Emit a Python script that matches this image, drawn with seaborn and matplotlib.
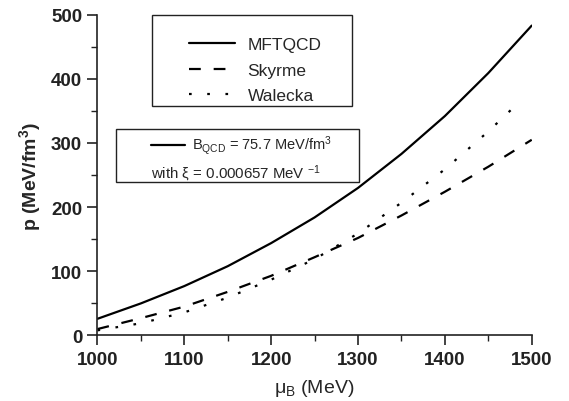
import seaborn as sns
import matplotlib.pyplot as plt
import matplotlib.patches as mpatches
import pandas as pd

# ---------------------------
# Data (p vs mu_B)
# ---------------------------
mu_mft = [1000, 1050, 1100, 1150, 1200, 1250, 1300, 1350, 1400, 1450, 1500]
p_mft = [26, 50, 77, 108, 144, 184, 230, 283, 342, 409, 483]

mu_sky = [1000, 1050, 1100, 1150, 1200, 1250, 1300, 1350, 1400, 1450, 1500]
p_sky = [10, 27, 45, 68, 93, 122, 152, 187, 224, 263, 305]

mu_wal = [1000, 1050, 1100, 1150, 1200, 1250, 1300, 1350, 1400, 1450, 1485]
p_wal = [8, 19, 36, 59, 87, 119, 159, 207, 259, 318, 363]

models = ["MFTQCD", "Skyrme", "Walecka"]

df = pd.concat([
    pd.DataFrame({"mu": mu_mft, "p": p_mft, "model": models[0]}),
    pd.DataFrame({"mu": mu_sky, "p": p_sky, "model": models[1]}),
    pd.DataFrame({"mu": mu_wal, "p": p_wal, "model": models[2]}),
])

# ---------------------------
# Style
# ---------------------------
sns.set_style("ticks")
plt.rcParams["font.family"] = ["Liberation Sans", "DejaVu Sans"]
plt.rcParams["mathtext.fontset"] = "custom"
plt.rcParams["mathtext.rm"] = "Liberation Sans"

fig = plt.figure(figsize=(5.69, 4.02), dpi=100)
ax = fig.add_axes([0.1713, 0.163, 0.7632, 0.798])

sns.lineplot(
    data=df, x="mu", y="p", style="model",
    dashes={"MFTQCD": "", "Skyrme": (5.3, 5.8), "Walecka": (1.2, 7.0)},
    color="black", linewidth=1.6, legend=False, ax=ax, sort=False,
)

ax.set_xlim(1000, 1500)
ax.set_ylim(0, 500)
ax.set_xticks([1000, 1100, 1200, 1300, 1400, 1500])
ax.set_xticks(range(1050, 1500, 100), minor=True)
ax.set_yticks([0, 100, 200, 300, 400, 500])
ax.set_yticks(range(50, 500, 100), minor=True)
sns.despine(ax=ax)
for s in ["left", "bottom"]:
    ax.spines[s].set_linewidth(1.2)
    ax.spines[s].set_color("#222222")
ax.tick_params(which="major", length=7, width=1.2, direction="out",
               labelsize=13.5, colors="#222222", pad=4)
ax.tick_params(which="minor", length=4, width=1.0, direction="out", colors="#222222")
for lab in ax.get_xticklabels() + ax.get_yticklabels():
    lab.set_fontweight("bold")

ax.set_xlabel(r"$\mathregular{\mu_B}$ (MeV)", fontsize=14, labelpad=7)
ax.set_ylabel(r"p (MeV/fm$\mathregular{^3}$)", fontsize=14, fontweight="bold", labelpad=6)

# ---------------------------
# Legend box 1
# ---------------------------
ax.add_patch(mpatches.Rectangle((0.125, 0.715), 0.461, 0.284, transform=ax.transAxes,
                                fill=False, edgecolor="#222222", linewidth=1.0, clip_on=False))
ax.legend(ax.lines[:3], models, loc="upper left", bbox_to_anchor=(0.2097, 0.93),
          frameon=False, fontsize=12.5, handlelength=2.7, handletextpad=0.7,
          labelspacing=0.6, borderpad=0, borderaxespad=0)

# ---------------------------
# Box 2 (B_QCD annotation)
# ---------------------------
ax.add_patch(mpatches.Rectangle((0.0433, 0.4785), 0.5587, 0.1652, transform=ax.transAxes,
                                fill=False, edgecolor="#222222", linewidth=1.0, clip_on=False))
ax.plot([0.1244, 0.2012], [0.5948, 0.5948], transform=ax.transAxes, color="black", linewidth=1.6)
ax.text(0.2173, 0.5948, r"B$\mathregular{_{QCD}}$ = 75.7 MeV/fm$\mathregular{^3}$",
        transform=ax.transAxes, fontsize=10.5, va="center", ha="left")
ax.text(0.1244, 0.5066, r"with ξ = 0.000657 MeV $\mathregular{^{-1}}$",
        transform=ax.transAxes, fontsize=10.8, va="center", ha="left")

fig.savefig("out.png", dpi=100)
plt.close(fig)
